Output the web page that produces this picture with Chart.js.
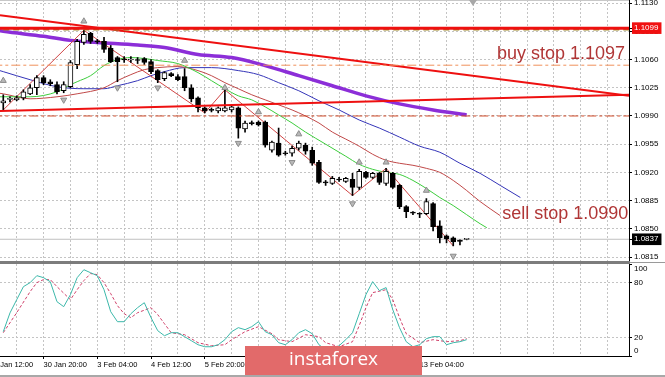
<!DOCTYPE html>
<html><head><meta charset="utf-8">
<script src="https://cdn.jsdelivr.net/npm/chart.js@4/dist/chart.umd.min.js"></script>
<style>html,body{margin:0;padding:0;background:#fff;overflow:hidden}canvas{display:block}</style>
</head><body>
<canvas id="c" width="665" height="377"></canvas>
<script>
// ---------- DATA (EURUSD H4) ----------
const O = [1.10063,1.10106,1.10100,1.10125,1.10175,1.10250,1.10375,1.10325,1.10288,1.10213,
 1.10263,1.10538,1.10813,1.10925,1.10825,1.10825,1.10738,1.10625,1.10600,1.10594,
 1.10600,1.10613,1.10575,1.10463,1.10363,1.10425,1.10388,1.10388,1.10250,1.10125,
 1.10000,1.09975,1.09963,1.09963,1.09975,1.10000,1.09738,1.09813,1.09825,1.09825,
 1.09475,1.09563,1.09438,1.09438,1.09500,1.09538,1.09475,1.09325,1.09075,1.09063,
 1.09113,1.09088,1.09113,1.09013,1.09200,1.09138,1.09188,1.09063,1.09188,1.09038,
 1.08775,1.08700,1.08688,1.08688,1.08813,1.08538,1.08413,1.08388,1.08350,1.08369];
const H = [1.10163,1.10138,1.10150,1.10225,1.10288,1.10400,1.10400,1.10350,1.10325,1.10325,
 1.10588,1.10850,1.10963,1.10938,1.10850,1.10875,1.10775,1.10638,1.10638,1.10638,
 1.10625,1.10625,1.10600,1.10475,1.10450,1.10438,1.10413,1.10488,1.10288,1.10138,
 1.10013,1.10000,1.10013,1.10225,1.10038,1.10013,1.09838,1.09838,1.09838,1.09838,
 1.09588,1.09750,1.09463,1.09525,1.09588,1.09563,1.09513,1.09350,1.09100,1.09150,
 1.09138,1.09138,1.09188,1.09238,1.09213,1.09200,1.09200,1.09250,1.09200,1.09050,
 1.08788,1.08713,1.08700,1.08875,1.08825,1.08600,1.08425,1.08400,1.08363,1.08375];
const L = [1.09975,1.10075,1.10088,1.10100,1.10163,1.10163,1.10288,1.10275,1.10175,1.10188,
 1.10250,1.10488,1.10788,1.10800,1.10800,1.10688,1.10563,1.10325,1.10563,1.10563,
 1.10550,1.10538,1.10425,1.10313,1.10338,1.10388,1.10338,1.10213,1.10075,1.09950,
 1.09938,1.09950,1.09938,1.09950,1.09950,1.09625,1.09700,1.09788,1.09775,1.09513,
 1.09450,1.09400,1.09413,1.09400,1.09475,1.09425,1.09288,1.09063,1.09038,1.09050,
 1.09088,1.09075,1.08913,1.08988,1.09125,1.09125,1.09050,1.09038,1.09000,1.08750,
 1.08638,1.08675,1.08638,1.08675,1.08475,1.08325,1.08325,1.08288,1.08300,1.08363];
const C = [1.10088,1.10113,1.10125,1.10200,1.10250,1.10375,1.10313,1.10300,1.10200,1.10288,
 1.10563,1.10825,1.10913,1.10825,1.10819,1.10725,1.10575,1.10575,1.10594,1.10600,
 1.10588,1.10563,1.10450,1.10350,1.10438,1.10400,1.10350,1.10250,1.10113,1.10000,
 1.09963,1.09969,1.10000,1.10000,1.10013,1.09750,1.09813,1.09806,1.09788,1.09538,
 1.09575,1.09413,1.09431,1.09500,1.09563,1.09463,1.09313,1.09075,1.09069,1.09125,
 1.09106,1.09125,1.09013,1.09213,1.09138,1.09188,1.09075,1.09213,1.09013,1.08775,
 1.08713,1.08694,1.08681,1.08838,1.08525,1.08388,1.08375,1.08338,1.08344,1.08370];

// Alligator (lips shift 3, teeth shift 5, jaw shift 8) - bar index / value
const lipsIdx = [-1,0,4,8,10,11,13,15,17,19,21,23,26,29,31,33,35,37,39,41,43,45,48,51,53,55,57,59,61,63,65,67,69,71,72];
const lipsVal = [1.10138,1.10138,1.10138,1.102,1.10288,1.10325,1.104,1.10525,1.106,1.10625,1.10613,1.10588,1.1055,1.10438,1.10338,1.10238,1.1015,1.101,1.10013,1.09913,1.09813,1.097,1.0955,1.094,1.093,1.09238,1.092,1.09175,1.091,1.09,1.08888,1.08788,1.08675,1.08563,1.08513];
const teethIdx = [-1,0,4,8,11,15,17,19,21,23,26,29,31,33,35,37,39,41,43,45,47,49,51,53,55,57,59,61,63,65,67,69,71,74];
const teethVal = [1.10188,1.10175,1.10113,1.10138,1.10175,1.1025,1.10338,1.10413,1.10475,1.105,1.10513,1.10463,1.104,1.10313,1.10238,1.10163,1.101,1.10038,1.09975,1.099,1.09813,1.097,1.09613,1.09525,1.09425,1.0935,1.09313,1.09288,1.0925,1.092,1.091,1.08975,1.08838,1.08663];
const jawIdx = [-1,0,4,8,12,15,17,20,22,24,27,31,35,38,41,44,47,50,53,56,59,62,65,68,71,74,77];
const jawVal = [1.10475,1.1045,1.1035,1.10263,1.10238,1.10238,1.10275,1.10338,1.104,1.1045,1.105,1.105,1.10463,1.10413,1.10313,1.10213,1.10088,1.09975,1.0985,1.0975,1.09638,1.09525,1.0945,1.09313,1.09188,1.09038,1.08888];
const maIdx = [-1,0,6,10,14,20,24,29,34,39,44,49,54,59,64,69];
const maVal = [1.10963,1.1095,1.10888,1.10838,1.10813,1.10781,1.1075,1.10663,1.10625,1.10525,1.104,1.10275,1.1015,1.1005,1.09975,1.09913];

// ZigZag vertices
const zzIdx = [0,12,30,33,52,57,67];
const zzVal = [1.09975,1.10963,1.09938,1.10225,1.08913,1.0925,1.08288];

// Fractals
const fracUpIdx = [0,12,27,33,38,44,53,57,63];
const fracUpVal = [1.10338,1.11075,1.10588,1.1025,1.0995,1.09675,1.09325,1.09325,1.08975];
const fracDnIdx = [9,17,23,35,43,52,67];
const fracDnVal = [1.101,1.1025,1.1025,1.09563,1.09325,1.08813,1.08163];

// Horizontal levels and trend lines
const levelVals = [1.1099, 1.1097, 1.1053, 1.0990, 1.0837];
const trendIdx = [-0.49, 93.17];
const trendDown = [1.1115, 1.1015];
const trendUp = [1.09963, 1.10163];

// Stochastic
const stochMain = [26.5,47,61.4,75.6,80,87.6,85.4,81,59.2,53.8,
 66.9,85.4,94.1,90.8,87.6,72.3,48.3,37.4,37.4,46.1,
 52.7,58.1,41.8,27.6,22.1,25.4,25.4,21.1,16.7,12.3,
 10.1,10.1,12.3,17.8,26.5,30.9,28.7,32,37.4,26.5,
 23.2,14.5,12.3,17.8,25.4,28.7,24.3,12.3,6.9,6.9,
 11.2,17.8,25.4,46.1,66.9,81.1,71.3,74.6,50.5,30.9,
 15.6,10.1,12.3,18.9,21.1,21.1,12.3,14.5,15.6,17.8];
const sigIdx = [0,2,4,5,6,7,8,10,11,12,13,14,15,16,17,18,19,20,22,23,24,25,27,29,31,33,34,36,38,40,41,43,45,47,48,50,52,53,54,55,57,58,59,60,62,64,66,68,69];
const sigVal = [25.4,47.2,70.2,80,83.3,83.3,75.6,61.4,72.3,82.2,89.9,88.7,80,68,54.9,46.1,41.8,47.2,52.7,45.1,35.2,25.4,23.2,14.5,11.2,12.3,17.8,26.5,32,24.3,17.8,15.6,23.2,21.1,14.5,10.1,15.6,33.1,52.7,69.1,72.3,61.4,41.8,24.3,14.5,17.8,15.6,16.7,18.9];

// Axis ticks
const priceTicks = [1.0815,1.0850,1.0885,1.0920,1.0955,1.0990,1.1025,1.1060,1.1095,1.1130];
const markTicks = [1.1099, 1.0837];
const markColors = ['#f01010', '#000000'];
const stochTicks = [0, 20, 80, 100];
const gridIdx = [-2,2,6,10,14,18,22,26,30,34,38,42,46,50,54,58,62,66,70,74,78,82,86,90];
const timeTickIdx = [-2,6,14,22,30,38,46,54,62];
const timeLabels = ['29 Jan 12:00','30 Jan 20:00','3 Feb 04:00','4 Feb 12:00','5 Feb 20:00','7 Feb 04:00','10 Feb 12:00','11 Feb 20:00','13 Feb 04:00'];

// Text objects
const annoText = ['buy stop 1.1097', 'sell stop 1.0990'];
const annoIdx = [73.5, 74.3];
const annoPrice = [1.10607, 1.08622];

// ---------- CHART ----------
const X_MIN = -0.487, X_MAX = 93.17;
Chart.defaults.font.family = 'Liberation Sans';
Chart.defaults.color = '#000';

const bars = O.map((_, i) => i);
const pts = (xs, ys) => xs.map((x, k) => ({x: x, y: ys[k]}));
const span = v => [{x: X_MIN - 1, y: v}, {x: X_MAX + 1, y: v}];
const T = 'rgba(0,0,0,0)';

function line(data, color, width, order, extra) {
  return Object.assign({type: 'line', data: data, borderColor: color, borderWidth: width,
    pointRadius: 0, fill: false, tension: 0, order: order, yAxisID: 'y'}, extra || {});
}

const datasets = [
  line(span(levelVals[0]), '#ee1010', 3, -1),
  line(span(levelVals[1]), '#a08a2a', 1.5, -1, {borderDash: [6, 4]}),
  line(span(levelVals[2]), '#f0905a', 1, -1, {borderDash: [9, 3, 3, 3]}),
  line(span(levelVals[3]), '#d04a28', 1, -1, {borderDash: [9, 3, 3, 3]}),
  line(pts(trendIdx, trendDown), '#ee1010', 2, -1),
  line(pts(trendIdx, trendUp), '#ee1010', 2, -1),
  line(span(levelVals[4]), '#c0c0c0', 1, 9),
  {type: 'line', data: pts(fracUpIdx, fracUpVal), showLine: false, pointStyle: 'triangle', pointRadius: 3.5,
   pointBackgroundColor: '#b8b8b8', pointBorderColor: '#8c8c8c', pointBorderWidth: 1, order: 0, yAxisID: 'y'},
  {type: 'line', data: pts(fracDnIdx, fracDnVal), showLine: false, pointStyle: 'triangle', pointRadius: 3.5, pointRotation: 180,
   pointBackgroundColor: '#b8b8b8', pointBorderColor: '#8c8c8c', pointBorderWidth: 1, order: 0, yAxisID: 'y'},
  {type: 'bar', data: bars.map(i => ({x: i, y: [O[i], C[i]]})), grouped: false, barThickness: 5, minBarLength: 1,
   backgroundColor: bars.map(i => C[i] >= O[i] ? '#ffffff' : '#000000'), borderColor: '#000', borderWidth: 1,
   borderSkipped: false, order: 1, yAxisID: 'y'},
  {type: 'bar', data: bars.map(i => ({x: i, y: [L[i], H[i]]})), grouped: false, barThickness: 1,
   backgroundColor: '#000', borderWidth: 0, order: 2, yAxisID: 'y'},
  line(pts(zzIdx, zzVal), '#d04444', 1, 3),
  line(pts(lipsIdx, lipsVal), '#3ccc3c', 1, 4, {cubicInterpolationMode: 'monotone'}),
  line(pts(teethIdx, teethVal), '#c04848', 1, 5, {cubicInterpolationMode: 'monotone'}),
  line(pts(jawIdx, jawVal), '#3434b8', 1, 6, {cubicInterpolationMode: 'monotone'}),
  line(pts(maIdx, maVal), '#8c2ed8', 3.5, 7, {cubicInterpolationMode: 'monotone'}),
  line(bars.map(i => ({x: i, y: stochMain[i]})), '#3cb8aa', 1, 2, {yAxisID: 'y2'}),
  line(pts(sigIdx, sigVal), '#d0406a', 1, 3, {yAxisID: 'y2', borderDash: [3, 2]})
];

const frame = {
  id: 'frame',
  afterDraw(chart) {
    const {ctx, chartArea: a, scales} = chart;
    const yb = scales.y.bottom;
    ctx.save();
    ctx.fillStyle = '#c8c8c8'; ctx.fillRect(0, 0, a.right, 1);
    ctx.fillStyle = '#7c7c7c'; ctx.fillRect(0, yb - 1, a.right + 1, 3);
    ctx.fillStyle = '#9a9a9a'; ctx.fillRect(a.right + 1, yb, chart.width - a.right, 1);
    ctx.fillStyle = '#a8a8a8'; ctx.fillRect(0, chart.height - 2, chart.width, 2);
    ctx.fillStyle = '#a8a8a8';
    ctx.beginPath(); ctx.moveTo(469, 0); ctx.lineTo(477, 0); ctx.lineTo(473, 6); ctx.closePath(); ctx.fill();
    ctx.font = '18px "Liberation Sans"'; ctx.fillStyle = '#b03636';
    ctx.textAlign = 'left'; ctx.textBaseline = 'alphabetic';
    annoText.forEach((t, k) => ctx.fillText(t, scales.x.getPixelForValue(annoIdx[k]), scales.y.getPixelForValue(annoPrice[k])));
    ctx.fillStyle = '#e26a6a'; ctx.fillRect(245, 346, 177, 29);
    ctx.fillStyle = '#ffffff'; ctx.font = '19px "Open Sans"'; ctx.textAlign = 'center'; ctx.textBaseline = 'middle';
    ctx.fillText('instaforex', 333.5, 360);
    ctx.restore();
  }
};

const isMark = ctx => !!(ctx.tick && markTicks.includes(ctx.tick.value));

new Chart(document.getElementById('c'), {
  type: 'line',
  data: {datasets: datasets},
  plugins: [frame],
  options: {
    responsive: false, devicePixelRatio: 1, animation: false, events: [],
    layout: {padding: 0, autoPadding: false},
    plugins: {legend: {display: false}, tooltip: {enabled: false}},
    scales: {
      x: {
        type: 'linear', position: 'bottom', min: X_MIN, max: X_MAX, offset: false,
        afterBuildTicks: s => { s.ticks = gridIdx.map(v => ({value: v})); },
        afterFit: s => { s.height = 21; s.paddingLeft = 0; s.paddingRight = 0; },
        ticks: {autoSkip: false, maxRotation: 0, minRotation: 0, align: 'start', padding: 1,
          font: {size: 7.5}, color: '#000',
          callback: v => { const k = timeTickIdx.indexOf(v); return k >= 0 ? timeLabels[k] : ''; }},
        grid: {offset: false, color: '#c4c4c4', lineWidth: 1, drawTicks: true, tickLength: 3,
          tickColor: ctx => (ctx.tick && timeTickIdx.includes(ctx.tick.value)) ? '#000' : T},
        border: {display: true, color: '#000', width: 1, dash: [2, 2]}
      },
      y: {
        type: 'linear', position: 'right', stack: 'panes', stackWeight: 262,
        min: 1.08088, max: 1.11339, beginAtZero: false,
        afterBuildTicks: s => { s.ticks = priceTicks.concat(markTicks).map(v => ({value: v})); },
        afterFit: s => { s.width = 36; s.paddingTop = 0; s.paddingBottom = 0; },
        ticks: {autoSkip: false, padding: 2, font: {size: 8},
          color: ctx => isMark(ctx) ? '#fff' : '#000',
          showLabelBackdrop: ctx => isMark(ctx),
          backdropColor: ctx => isMark(ctx) ? markColors[markTicks.indexOf(ctx.tick.value)] : T,
          backdropPadding: {left: 2, right: 3, top: 1, bottom: 1},
          callback: v => Number(v).toFixed(4)},
        grid: {color: ctx => isMark(ctx) ? T : '#c4c4c4', lineWidth: 1, drawTicks: true, tickLength: 3,
          tickColor: '#000'},
        border: {display: true, color: '#000', width: 1, dash: [2, 2]}
      },
      y2: {
        type: 'linear', position: 'right', stack: 'panes', stackWeight: 94,
        min: 0, max: 102.5, beginAtZero: false,
        afterBuildTicks: s => { s.ticks = stochTicks.map(v => ({value: v})); },
        afterFit: s => { s.width = 36; s.paddingTop = 0; s.paddingBottom = 0; },
        ticks: {autoSkip: false, padding: 2, font: {size: 8, lineHeight: 1.25},
          callback: v => v === 100 ? ['', '100'] : (v === 0 ? ['0', ''] : String(v))},
        grid: {color: ctx => (ctx.tick && (ctx.tick.value === 80 || ctx.tick.value === 20)) ? '#c4c4c4' : T,
          lineWidth: 1, drawTicks: true, tickLength: 3, tickColor: '#000'},
        border: {display: true, color: '#000', width: 1, dash: [2, 2]}
      }
    }
  }
});
</script>
</body></html>
